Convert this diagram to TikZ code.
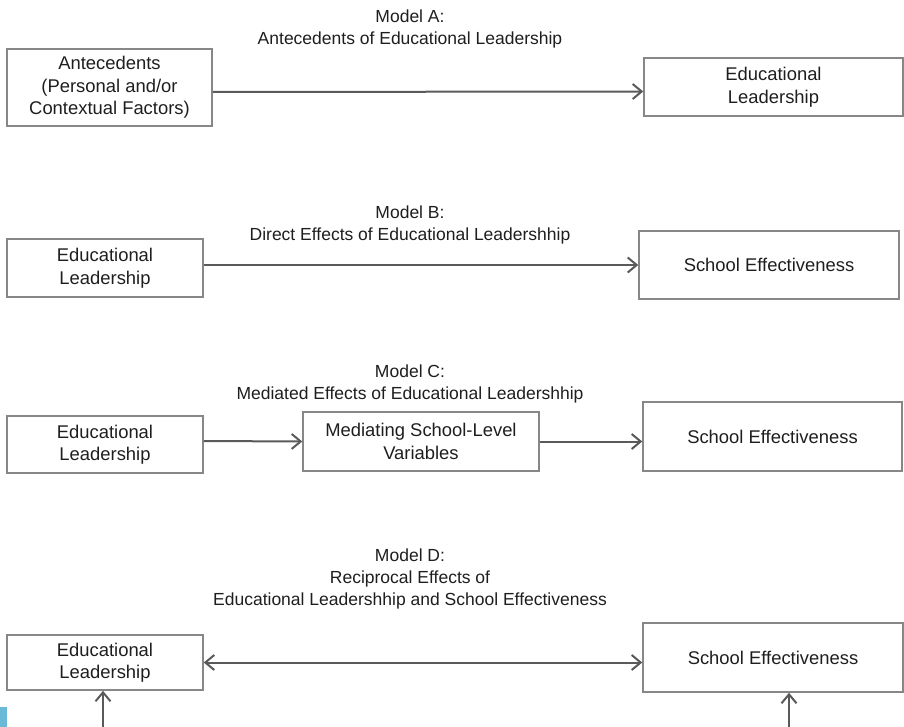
\documentclass[tikz,border=0pt]{standalone}
\usepackage{fontspec}
\setmainfont{Liberation Sans}
\usetikzlibrary{arrows.meta}
\definecolor{boxgray}{RGB}{135,135,135}
\definecolor{arrgray}{RGB}{90,90,90}
\definecolor{txtgray}{RGB}{30,30,30}
\definecolor{cornerblue}{RGB}{105,185,215}
\tikzset{
	mbox/.style={draw=boxgray,line width=1.5pt,text=txtgray,align=center,inner sep=0pt,
		font=\fontsize{18.4}{22.5}\selectfont},
	mtitle/.style={text=txtgray,align=center,inner sep=0pt,font=\fontsize{17.5}{22}\selectfont},
	arr/.style={draw=arrgray,line width=2pt},
	>={Straight Barb[length=9pt,width=15pt]},
}
\begin{document}
\begin{tikzpicture}[x=1pt,y=-1pt]
		\useasboundingbox (0,0) rectangle (904,727);
		%\draw[red] (0,0) rectangle (904,727);
		% Model A
		\node[mtitle] (titA) at (410,28.5) {Model A:\\Antecedents of Educational Leadership};
		\node[mbox,minimum width=205pt,minimum height=77pt] (antA) at (109.5,87.5) {Antecedents\\(Personal and/or\\Contextual Factors)};
		\node[mbox,minimum width=259pt,minimum height=58pt] (eduA) at (773.5,87) {Educational\\Leadership};
		\draw[arr,->] ([yshift=-4.5pt]antA.east) -- ([yshift=-4.5pt]eduA.west);
		% Model B
		\node[mtitle] (titB) at (410,224.5) {Model B:\\Direct Effects of Educational Leadershhip};
		\node[mbox,minimum width=196pt,minimum height=58pt] (eduB) at (105,268) {Educational\\Leadership};
		\node[mbox,minimum width=260pt,minimum height=68pt] (effB) at (769,265) {School Effectiveness};
		\draw[arr,->] (eduB.east |- effB.west) -- (effB.west);
		% Model C
		\node[mtitle] (titC) at (410,384) {Model C:\\Mediated Effects of Educational Leadershhip};
		\node[mbox,minimum width=196pt,minimum height=57pt] (eduC) at (105,444.5) {Educational\\Leadership};
		\node[mbox,minimum width=236pt,minimum height=59pt] (medC) at (421,441.5) {Mediating School-Level\\Variables};
		\node[mbox,minimum width=259pt,minimum height=69pt] (effC) at (772.5,436.5) {School Effectiveness};
		\draw[arr,->] ([yshift=3.5pt]eduC.east) -- (medC.west);
		\draw[arr,->] (medC.east) -- ([yshift=-5pt]effC.west);
		% Model D
		\node[mtitle] (titD) at (410,579) {Model D:\\Reciprocal Effects of\\Educational Leadershhip and School Effectiveness};
		\node[mbox,minimum width=196pt,minimum height=55pt] (eduD) at (105,662.5) {Educational\\Leadership};
		\node[mbox,minimum width=260pt,minimum height=69pt] (effD) at (773,657.5) {School Effectiveness};
		\draw[arr,<->] (eduD.east) -- (eduD.east -| effD.west);
		\coordinate (eduDfoot) at (103,727);
		\coordinate (effDfoot) at (789,727);
		\draw[arr,->] (eduDfoot) -- (eduDfoot |- eduD.south);
		\draw[arr,->] (effDfoot) -- (effDfoot |- effD.south);
		\fill[cornerblue] (0,707) rectangle (7,727);
	\end{tikzpicture}
\end{document}
